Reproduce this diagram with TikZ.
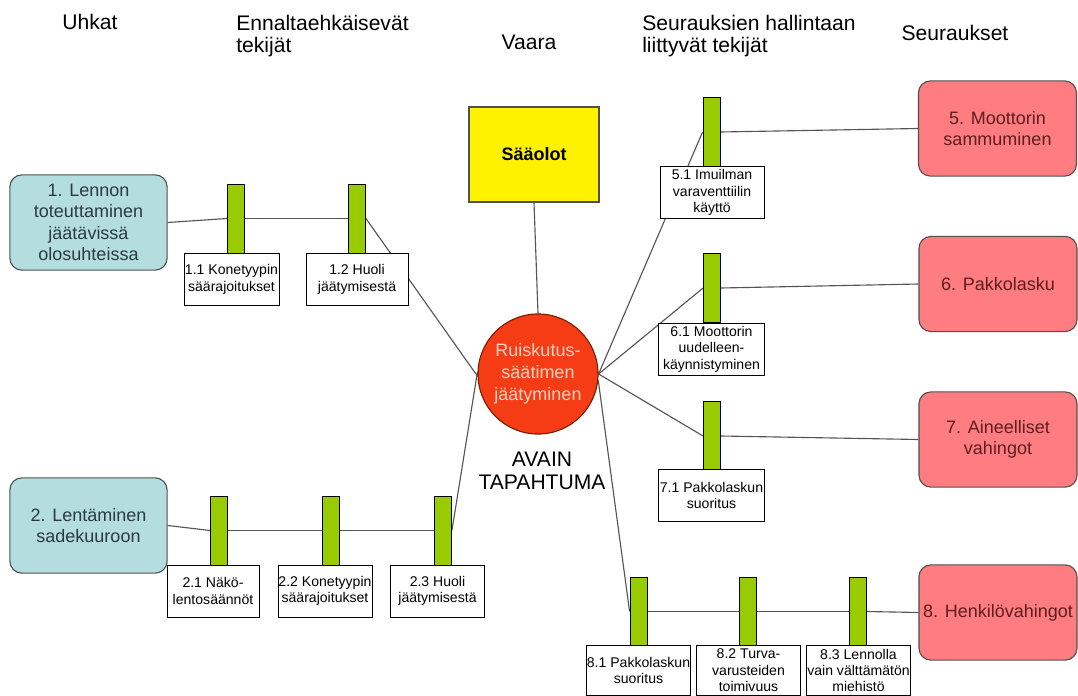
\documentclass[tikz,border=0pt]{standalone}
\usepackage{fontspec}
\setmainfont{Liberation Sans}
\usepackage{xcolor}
\usepackage{tikz}
\usetikzlibrary{positioning}

\definecolor{threatfill}{RGB}{180,221,224}
\definecolor{threattext}{RGB}{43,58,63}
\definecolor{consfill}{RGB}{255,124,128}
\definecolor{constext}{RGB}{92,30,30}
\definecolor{barfill}{RGB}{153,204,0}
\definecolor{eventfill}{RGB}{246,60,20}
\definecolor{eventline}{RGB}{122,30,0}
\definecolor{eventtext}{RGB}{255,212,196}
\definecolor{boxline}{RGB}{80,80,80}
\definecolor{wiregray}{RGB}{85,85,85}

\pgfdeclarelayer{paper}
\pgfdeclarelayer{wires}
\pgfsetlayers{paper,wires,main}

\tikzstyle{header} = [inner sep=0pt, font=\fontsize{15}{15.6}\selectfont]
\tikzstyle{threat} = [
  rectangle, rounded corners=8.5pt, draw=boxline, fill=threatfill,
  line width=0.8pt, minimum width=3.93cm, minimum height=2.38cm,
  align=center, text=threattext, inner sep=0pt,
  font=\fontsize{12.8}{15.3}\selectfont
]
\tikzstyle{consq} = [
  rectangle, rounded corners=8.5pt, draw=boxline, fill=consfill,
  line width=0.8pt, minimum width=3.95cm, minimum height=2.38cm,
  align=center, text=constext, inner sep=0pt,
  font=\fontsize{12.8}{14.5}\selectfont
]
\tikzstyle{barrier} = [
  rectangle, draw=black, fill=barfill, line width=0.6pt,
  minimum width=0.425cm, minimum height=1.725cm, inner sep=0pt
]
\tikzstyle{barlabel} = [
  rectangle, draw=black, fill=white, line width=0.6pt,
  align=center, inner sep=0pt, minimum height=1.3cm,
  font=\fontsize{10}{11.7}\selectfont
]
\tikzstyle{hazard} = [
  rectangle, draw=boxline, fill=yellow, line width=0.8pt,
  minimum width=3.25cm, minimum height=2.375cm,
  font=\bfseries\fontsize{12.8}{15}\selectfont
]
\tikzstyle{topevent} = [
  circle, draw=eventline, fill=eventfill, line width=0.8pt,
  minimum size=3cm, inner sep=0pt, align=center, text=eventtext,
  font=\fontsize{12.8}{15.6}\selectfont
]
\tikzstyle{wire} = [draw=wiregray, line width=0.8pt]

\begin{document}
\begin{tikzpicture}[x=0.025cm, y=-0.025cm]

  \useasboundingbox (0,0) rectangle (1078,696);
  \begin{pgfonlayer}{paper}
    \fill[white] (0,0) rectangle (1078,696);
  \end{pgfonlayer}

  % column headers
  \node[header] (hUhkat) at (90,22) {Uhkat};
  \node[header, anchor=north west, align=left] (hEnnalta) at (236,15) {Ennaltaehkäisevät\\tekijät};
  \node[header] (hVaara) at (529,42) {Vaara};
  \node[header, anchor=north west, align=left] (hHallinta) at (642,15) {Seurauksien hallintaan\\liittyvät tekijät};
  \node[header] (hSeuraukset) at (955,33) {Seuraukset};

  % threats
  \node[threat] (uhka1) at (88.5,222.5) {1. Lennon\\toteuttaminen\\jäätävissä\\olosuhteissa};
  \node[threat] (uhka2) at (88.5,525.5) {2. Lentäminen\\sadekuuroon};

  % hazard and top event
  \node[hazard] (vaara) at (534,154.5) {Sääolot};
  \node[topevent] (avain) at (538,374) {Ruiskutus-\\säätimen\\jäätyminen};
  \node[header, align=center, font=\fontsize{15}{16.4}\selectfont] (avainTxt) at (542,471) {AVAIN\\TAPAHTUMA};

  % preventive barriers
  \node[barrier] (b11) at (236,218.5) {};
  \node[barrier] (b12) at (357,218.5) {};
  \node[barlabel, minimum width=2.375cm] (l11) at (231.5,279.5) {1.1 Konetyypin\\säärajoitukset};
  \node[barlabel, minimum width=2.55cm] (l12) at (357,279.5) {1.2 Huoli\\jäätymisestä};

  \node[barrier] (b21) at (219,530.5) {};
  \node[barrier] (b22) at (330.5,530.5) {};
  \node[barrier] (b23) at (443,530.5) {};
  \node[barlabel, minimum width=2.3cm] (l21) at (213,591) {2.1 Näkö-\\lentosäännöt};
  \node[barlabel, minimum width=2.35cm] (l22) at (325,591) {2.2 Konetyypin\\säärajoitukset};
  \node[barlabel, minimum width=2.33cm] (l23) at (437.5,591) {2.3 Huoli\\jäätymisestä};

  % mitigating barriers
  \node[barrier] (b51) at (711.5,132) {};
  \node[barlabel, minimum width=2.6cm] (l51) at (712,192.5) {5.1 Imuilman\\varaventtiilin\\käyttö};
  \node[barrier] (b61) at (712,288) {};
  \node[barlabel, minimum width=2.63cm] (l61) at (711.5,349) {6.1 Moottorin\\uudelleen-\\käynnistyminen};
  \node[barrier] (b71) at (712,436) {};
  \node[barlabel, minimum width=2.63cm] (l71) at (711.5,495.5) {7.1 Pakkolaskun\\suoritus};

  \node[barrier] (b81) at (638.5,611.5) {};
  \node[barrier] (b82) at (748,611.5) {};
  \node[barrier] (b83) at (858,611.5) {};
  \node[barlabel, minimum width=2.58cm, minimum height=1.23cm] (l81) at (638.5,670.5) {8.1 Pakkolaskun\\suoritus};
  \node[barlabel, minimum width=2.58cm, minimum height=1.23cm] (l82) at (748.5,670.5) {8.2 Turva-\\varusteiden\\toimivuus};
  \node[barlabel, minimum width=2.58cm, minimum height=1.23cm] (l83) at (858.5,670.5) {8.3 Lennolla\\vain välttämätön\\miehistö};

  % consequences
  \node[consq] (seur5) at (997.5,128.5) {5. Moottorin\\sammuminen};
  \node[consq] (seur6) at (998,284) {6. Pakkolasku};
  \node[consq] (seur7) at (998,439.5) {7. Aineelliset\\vahingot};
  \node[consq] (seur8) at (998,612.5) {8. Henkilövahingot};

  \begin{pgfonlayer}{wires}
    \draw[wire] (uhka1.east) -- (b11.west);
    \draw[wire] (b11.east) -- (b12.west);
    \draw[wire] (b12.east) -- (avain.182);
    \draw[wire] (uhka2.east) -- (b21.west);
    \draw[wire] (b21.east) -- (b22.west);
    \draw[wire] (b22.east) -- (b23.west);
    \draw[wire] (b23.east) -- (avain.178);
    \draw[wire] (vaara.south) -- (avain.north);
    \draw[wire] (avain.east) -- (b51.west);
    \draw[wire] (avain.east) -- (b61.west);
    \draw[wire] (avain.east) -- (b71.west);
    \draw[wire] (avain.-6) -- (b81.west);
    \draw[wire] (b81.east) -- (b82.west);
    \draw[wire] (b82.east) -- (b83.west);
    \draw[wire] (b51.east) -- (seur5.west);
    \draw[wire] (b61.east) -- (seur6.west);
    \draw[wire] (b71.east) -- (seur7.west);
    \draw[wire] (b83.east) -- (seur8.west);
  \end{pgfonlayer}

\end{tikzpicture}
\end{document}
